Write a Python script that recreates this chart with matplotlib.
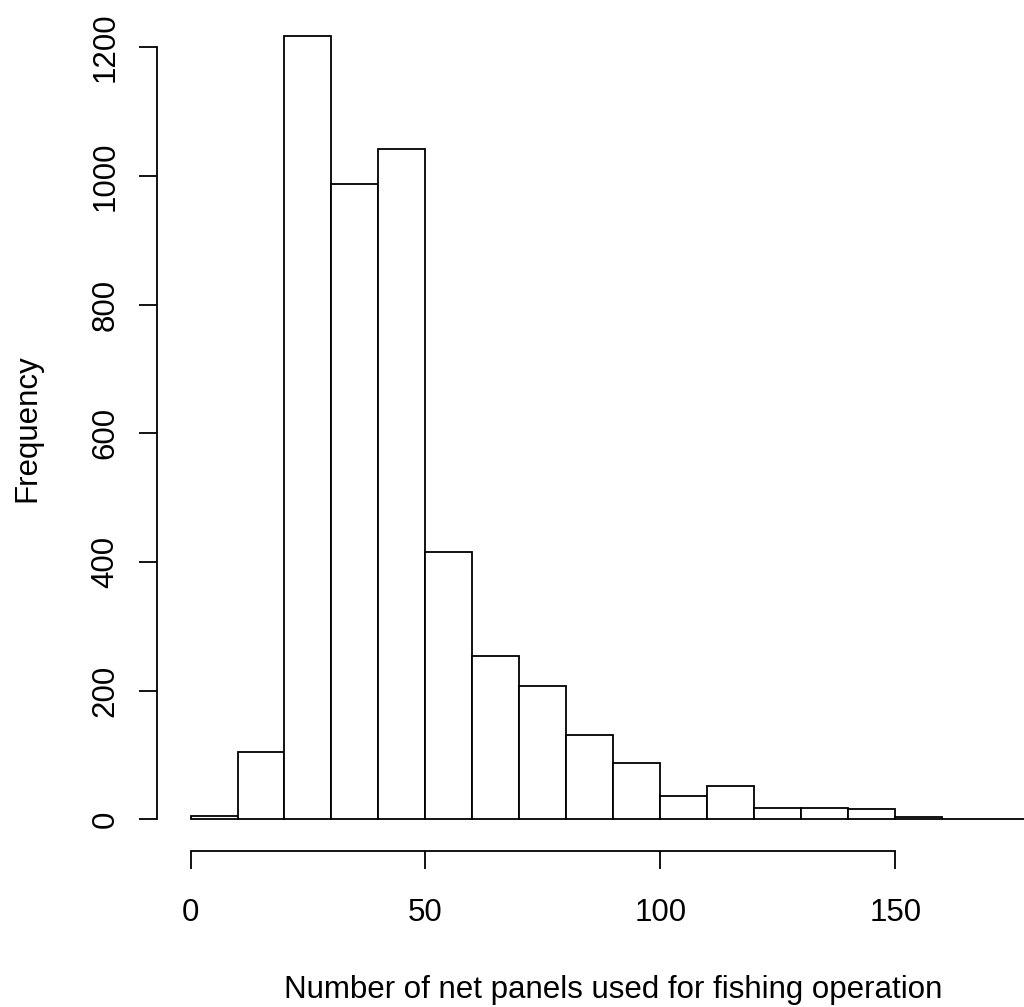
import matplotlib
matplotlib.use("Agg")
import matplotlib.pyplot as plt
import numpy as np

plt.rcParams["font.family"] = ["Liberation Sans", "DejaVu Sans"]

# histogram bins (width 10) and counts
bin_edges = list(range(0, 190, 10))
counts = [6, 105, 1217, 987, 1042, 416, 254, 207, 131, 87, 37, 52, 18, 18, 16, 3, 1, 1]
x_ticks = [0, 50, 100, 150]
y_ticks = [0, 200, 400, 600, 800, 1000, 1200]

fig = plt.figure(figsize=(10.24, 10.07), dpi=100)
# plot region like R's hist (4% padding on each side), right side runs past the image edge
ax = fig.add_axes([156.7 / 1024, 1 - 850.7 / 1007, (1070 - 156.7) / 1024, (850.7 - 5.1) / 1007])

left = np.array(bin_edges[:-1])
widths = np.diff(bin_edges)
ax.bar(left, counts, width=widths, align="edge", color="white", edgecolor="black", linewidth=1.3)

xr = bin_edges[-1] - bin_edges[0]
yr = max(counts)
ax.set_xlim(bin_edges[0] - 0.04 * xr, bin_edges[-1] + 0.04 * xr)
ax.set_ylim(-0.04 * yr, yr * 1.04)

for s in ["top", "right"]:
    ax.spines[s].set_visible(False)
ax.spines["left"].set_bounds(y_ticks[0], y_ticks[-1])
ax.spines["bottom"].set_bounds(x_ticks[0], x_ticks[-1])
ax.spines["left"].set_linewidth(1.3)
ax.spines["bottom"].set_linewidth(1.3)

fs = 22.5
ax.set_xticks(x_ticks)
ax.set_yticks(y_ticks)
ax.tick_params(axis="both", length=13, width=1.3, labelsize=fs)
ax.tick_params(axis="x", pad=21)
ax.tick_params(axis="y", pad=13)
for lab in ax.get_yticklabels():
    lab.set_rotation(90)
    lab.set_va("center")

ax.set_xlabel("Number of net panels used for fishing operation", fontsize=fs, va="center")
ax.set_ylabel("Frequency", fontsize=fs, va="center")
ax.xaxis.set_label_coords(0.5, (850.7 - 990) / 845.6)
ax.yaxis.set_label_coords((27 - 156.7) / 913.3, 0.5)

fig.savefig("out.png", dpi=100)
